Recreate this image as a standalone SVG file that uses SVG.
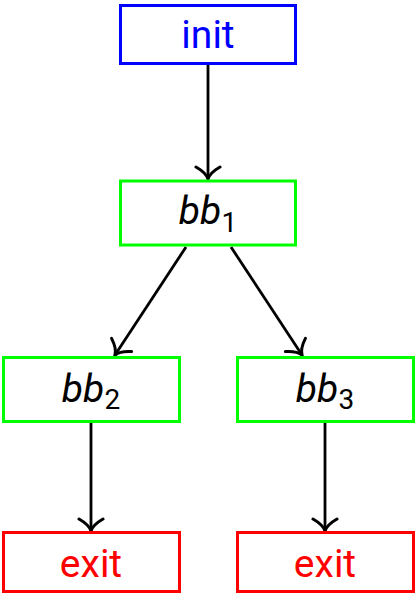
<svg xmlns="http://www.w3.org/2000/svg" width="416" height="595" viewBox="0 0 416 595">
<style>
.box{fill:#fff;stroke-width:3}
.blue{stroke:#0000ff}
.green{stroke:#00ff00}
.red{stroke:#ff0000}
.t{font-family:Roboto,"Liberation Sans",sans-serif;font-size:39px;text-anchor:middle}
.it{font-style:italic;fill:#000}
.sub{font-size:28px;font-style:normal}
.edge{stroke:#000;stroke-width:2.8;fill:none;marker-end:url(#arr)}
</style>
<defs>
<marker id="arr" markerUnits="userSpaceOnUse" viewBox="-16 -16 18 32" markerWidth="18" markerHeight="32" refX="0" refY="0" orient="auto">
<path d="M-12,-12 C-8,-5 -3,-1 0,0 C-3,1 -8,5 -12,12" fill="none" stroke="#000" stroke-width="3" stroke-linecap="round"/>
</marker>
</defs>
<g id="edges">
<line class="edge" x1="208" y1="64" x2="208" y2="179"/>
<line class="edge" x1="186" y1="247" x2="115" y2="355"/>
<line class="edge" x1="231" y1="247" x2="302" y2="355"/>
<line class="edge" x1="91" y1="422" x2="91" y2="531"/>
<line class="edge" x1="325" y1="422" x2="325" y2="531"/>
</g>
<g id="init">
<rect class="box blue" x="120.5" y="5.5" width="175" height="58"/>
<text class="t" x="208" y="48" fill="#0000ff">init</text>
</g>
<g id="bb1">
<rect class="box green" x="120.5" y="181" width="175" height="64"/>
<text class="t it" x="208" y="224">bb<tspan class="sub" dy="8">1</tspan></text>
</g>
<g id="bb2">
<rect class="box green" x="3.5" y="357.5" width="176" height="64"/>
<text class="t it" x="91" y="402">bb<tspan class="sub" dy="7">2</tspan></text>
</g>
<g id="bb3">
<rect class="box green" x="237.5" y="357.5" width="176" height="64"/>
<text class="t it" x="325" y="402">bb<tspan class="sub" dy="7">3</tspan></text>
</g>
<g id="exit1">
<rect class="box red" x="3.5" y="532.5" width="176" height="59"/>
<text class="t" x="91" y="577" fill="#ff0000">exit</text>
</g>
<g id="exit2">
<rect class="box red" x="237.5" y="532.5" width="176" height="59"/>
<text class="t" x="325" y="577" fill="#ff0000">exit</text>
</g>
</svg>
